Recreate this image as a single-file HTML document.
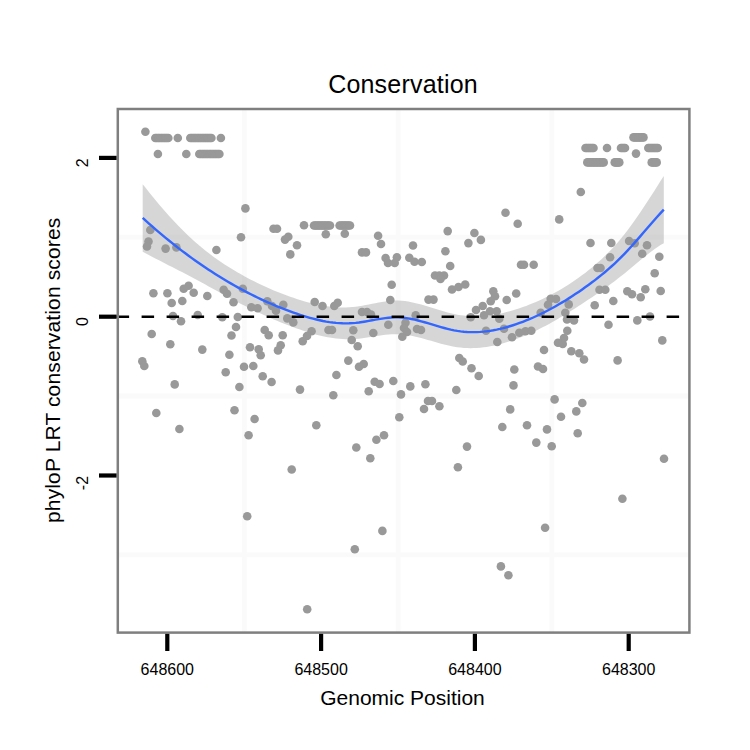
<!DOCTYPE html>
<html><head><meta charset="utf-8"><style>
html,body{margin:0;padding:0;background:#fff;}
body{width:750px;height:750px;overflow:hidden;}
svg{display:block;}
text{font-family:"Liberation Sans",sans-serif;fill:#000;}
</style></head><body>
<svg width="750" height="750" viewBox="0 0 750 750">
<rect x="0" y="0" width="750" height="750" fill="#fff"/>
<g stroke="#fafafa" stroke-width="4.8">
<line x1="244.3" y1="109.0" x2="244.3" y2="632.6"/>
<line x1="398.1" y1="109.0" x2="398.1" y2="632.6"/>
<line x1="551.9" y1="109.0" x2="551.9" y2="632.6"/>
<line x1="117.8" y1="237.1" x2="689.4" y2="237.1"/>
<line x1="117.8" y1="396.0" x2="689.4" y2="396.0"/>
<line x1="117.8" y1="554.8" x2="689.4" y2="554.8"/>
</g>
<g fill="#999999">
<circle cx="145.4" cy="131.7" r="4.3"/>
<circle cx="155.3" cy="138.0" r="4.3"/>
<circle cx="156.7" cy="138.0" r="4.3"/>
<circle cx="158.2" cy="138.0" r="4.3"/>
<circle cx="159.6" cy="138.0" r="4.3"/>
<circle cx="161.1" cy="138.0" r="4.3"/>
<circle cx="162.5" cy="138.0" r="4.3"/>
<circle cx="164.0" cy="138.0" r="4.3"/>
<circle cx="165.4" cy="138.0" r="4.3"/>
<circle cx="166.9" cy="138.0" r="4.3"/>
<circle cx="168.3" cy="138.0" r="4.3"/>
<circle cx="177.8" cy="138.0" r="4.3"/>
<circle cx="190.3" cy="138.0" r="4.3"/>
<circle cx="191.7" cy="138.0" r="4.3"/>
<circle cx="193.1" cy="138.0" r="4.3"/>
<circle cx="194.5" cy="138.0" r="4.3"/>
<circle cx="195.9" cy="138.0" r="4.3"/>
<circle cx="197.3" cy="138.0" r="4.3"/>
<circle cx="198.7" cy="138.0" r="4.3"/>
<circle cx="200.1" cy="138.0" r="4.3"/>
<circle cx="201.6" cy="138.0" r="4.3"/>
<circle cx="203.0" cy="138.0" r="4.3"/>
<circle cx="204.4" cy="138.0" r="4.3"/>
<circle cx="205.8" cy="138.0" r="4.3"/>
<circle cx="207.2" cy="138.0" r="4.3"/>
<circle cx="208.6" cy="138.0" r="4.3"/>
<circle cx="210.0" cy="138.0" r="4.3"/>
<circle cx="211.4" cy="138.0" r="4.3"/>
<circle cx="220.9" cy="138.0" r="4.3"/>
<circle cx="157.9" cy="154.0" r="4.3"/>
<circle cx="186.3" cy="154.0" r="4.3"/>
<circle cx="199.3" cy="154.0" r="4.3"/>
<circle cx="200.7" cy="154.0" r="4.3"/>
<circle cx="202.2" cy="154.0" r="4.3"/>
<circle cx="203.6" cy="154.0" r="4.3"/>
<circle cx="205.0" cy="154.0" r="4.3"/>
<circle cx="206.5" cy="154.0" r="4.3"/>
<circle cx="207.9" cy="154.0" r="4.3"/>
<circle cx="209.4" cy="154.0" r="4.3"/>
<circle cx="210.8" cy="154.0" r="4.3"/>
<circle cx="212.2" cy="154.0" r="4.3"/>
<circle cx="213.7" cy="154.0" r="4.3"/>
<circle cx="215.1" cy="154.0" r="4.3"/>
<circle cx="216.5" cy="154.0" r="4.3"/>
<circle cx="218.0" cy="154.0" r="4.3"/>
<circle cx="219.4" cy="154.0" r="4.3"/>
<circle cx="633.5" cy="137.4" r="4.3"/>
<circle cx="634.9" cy="137.4" r="4.3"/>
<circle cx="636.4" cy="137.4" r="4.3"/>
<circle cx="637.8" cy="137.4" r="4.3"/>
<circle cx="639.2" cy="137.4" r="4.3"/>
<circle cx="640.6" cy="137.4" r="4.3"/>
<circle cx="642.1" cy="137.4" r="4.3"/>
<circle cx="643.5" cy="137.4" r="4.3"/>
<circle cx="585.5" cy="148.0" r="4.3"/>
<circle cx="586.8" cy="148.0" r="4.3"/>
<circle cx="588.2" cy="148.0" r="4.3"/>
<circle cx="589.5" cy="148.0" r="4.3"/>
<circle cx="590.8" cy="148.0" r="4.3"/>
<circle cx="592.2" cy="148.0" r="4.3"/>
<circle cx="593.5" cy="148.0" r="4.3"/>
<circle cx="607.0" cy="148.0" r="4.3"/>
<circle cx="621.0" cy="148.0" r="4.3"/>
<circle cx="622.3" cy="148.0" r="4.3"/>
<circle cx="623.7" cy="148.0" r="4.3"/>
<circle cx="625.0" cy="148.0" r="4.3"/>
<circle cx="648.3" cy="148.0" r="4.3"/>
<circle cx="649.6" cy="148.0" r="4.3"/>
<circle cx="651.0" cy="148.0" r="4.3"/>
<circle cx="652.3" cy="148.0" r="4.3"/>
<circle cx="653.7" cy="148.0" r="4.3"/>
<circle cx="655.0" cy="148.0" r="4.3"/>
<circle cx="656.4" cy="148.0" r="4.3"/>
<circle cx="657.7" cy="148.0" r="4.3"/>
<circle cx="636.0" cy="153.6" r="4.3"/>
<circle cx="587.3" cy="162.4" r="4.3"/>
<circle cx="588.8" cy="162.4" r="4.3"/>
<circle cx="590.3" cy="162.4" r="4.3"/>
<circle cx="591.8" cy="162.4" r="4.3"/>
<circle cx="593.3" cy="162.4" r="4.3"/>
<circle cx="594.8" cy="162.4" r="4.3"/>
<circle cx="596.2" cy="162.4" r="4.3"/>
<circle cx="597.7" cy="162.4" r="4.3"/>
<circle cx="599.2" cy="162.4" r="4.3"/>
<circle cx="600.7" cy="162.4" r="4.3"/>
<circle cx="602.2" cy="162.4" r="4.3"/>
<circle cx="603.7" cy="162.4" r="4.3"/>
<circle cx="614.7" cy="162.4" r="4.3"/>
<circle cx="615.9" cy="162.4" r="4.3"/>
<circle cx="617.0" cy="162.4" r="4.3"/>
<circle cx="618.1" cy="162.4" r="4.3"/>
<circle cx="619.3" cy="162.4" r="4.3"/>
<circle cx="651.7" cy="162.4" r="4.3"/>
<circle cx="653.0" cy="162.4" r="4.3"/>
<circle cx="654.2" cy="162.4" r="4.3"/>
<circle cx="655.5" cy="162.4" r="4.3"/>
<circle cx="656.7" cy="162.4" r="4.3"/>
<circle cx="150.3" cy="230.0" r="4.3"/>
<circle cx="148.5" cy="241.5" r="4.3"/>
<circle cx="147.0" cy="246.5" r="4.3"/>
<circle cx="165.6" cy="248.6" r="4.3"/>
<circle cx="176.4" cy="247.4" r="4.3"/>
<circle cx="216.4" cy="250.0" r="4.3"/>
<circle cx="245.4" cy="208.4" r="4.3"/>
<circle cx="241.0" cy="237.3" r="4.3"/>
<circle cx="273.5" cy="228.7" r="4.3"/>
<circle cx="277.0" cy="228.7" r="4.3"/>
<circle cx="288.3" cy="236.7" r="4.3"/>
<circle cx="285.0" cy="239.6" r="4.3"/>
<circle cx="297.0" cy="245.3" r="4.3"/>
<circle cx="290.3" cy="254.4" r="4.3"/>
<circle cx="304.0" cy="225.3" r="4.3"/>
<circle cx="325.8" cy="234.2" r="4.3"/>
<circle cx="314.0" cy="225.5" r="4.3"/>
<circle cx="315.5" cy="225.5" r="4.3"/>
<circle cx="316.9" cy="225.5" r="4.3"/>
<circle cx="318.4" cy="225.5" r="4.3"/>
<circle cx="319.8" cy="225.5" r="4.3"/>
<circle cx="321.3" cy="225.5" r="4.3"/>
<circle cx="322.7" cy="225.5" r="4.3"/>
<circle cx="324.2" cy="225.5" r="4.3"/>
<circle cx="325.6" cy="225.5" r="4.3"/>
<circle cx="327.1" cy="225.5" r="4.3"/>
<circle cx="328.5" cy="225.5" r="4.3"/>
<circle cx="330.0" cy="225.5" r="4.3"/>
<circle cx="339.6" cy="225.5" r="4.3"/>
<circle cx="341.1" cy="225.5" r="4.3"/>
<circle cx="342.6" cy="225.5" r="4.3"/>
<circle cx="344.1" cy="225.5" r="4.3"/>
<circle cx="345.5" cy="225.5" r="4.3"/>
<circle cx="347.0" cy="225.5" r="4.3"/>
<circle cx="348.5" cy="225.5" r="4.3"/>
<circle cx="350.0" cy="225.5" r="4.3"/>
<circle cx="344.8" cy="233.8" r="4.3"/>
<circle cx="378.1" cy="235.7" r="4.3"/>
<circle cx="381.0" cy="244.0" r="4.3"/>
<circle cx="362.0" cy="252.4" r="4.3"/>
<circle cx="366.0" cy="252.4" r="4.3"/>
<circle cx="413.0" cy="245.5" r="4.3"/>
<circle cx="385.6" cy="258.0" r="4.3"/>
<circle cx="396.9" cy="257.3" r="4.3"/>
<circle cx="388.0" cy="263.0" r="4.3"/>
<circle cx="394.7" cy="263.0" r="4.3"/>
<circle cx="409.3" cy="257.7" r="4.3"/>
<circle cx="414.5" cy="261.7" r="4.3"/>
<circle cx="421.8" cy="262.0" r="4.3"/>
<circle cx="505.5" cy="212.7" r="4.3"/>
<circle cx="517.7" cy="223.7" r="4.3"/>
<circle cx="447.7" cy="231.1" r="4.3"/>
<circle cx="474.4" cy="233.0" r="4.3"/>
<circle cx="480.9" cy="239.9" r="4.3"/>
<circle cx="468.4" cy="243.1" r="4.3"/>
<circle cx="445.4" cy="251.3" r="4.3"/>
<circle cx="450.2" cy="266.0" r="4.3"/>
<circle cx="521.0" cy="264.8" r="4.3"/>
<circle cx="524.0" cy="264.8" r="4.3"/>
<circle cx="533.7" cy="264.8" r="4.3"/>
<circle cx="435.0" cy="275.5" r="4.3"/>
<circle cx="439.3" cy="275.5" r="4.3"/>
<circle cx="444.0" cy="275.5" r="4.3"/>
<circle cx="440.5" cy="279.0" r="4.3"/>
<circle cx="452.0" cy="289.5" r="4.3"/>
<circle cx="458.5" cy="287.0" r="4.3"/>
<circle cx="465.2" cy="284.5" r="4.3"/>
<circle cx="493.3" cy="291.3" r="4.3"/>
<circle cx="495.0" cy="296.3" r="4.3"/>
<circle cx="490.7" cy="301.3" r="4.3"/>
<circle cx="516.2" cy="293.5" r="4.3"/>
<circle cx="506.7" cy="300.0" r="4.3"/>
<circle cx="428.5" cy="299.6" r="4.3"/>
<circle cx="433.5" cy="299.6" r="4.3"/>
<circle cx="580.8" cy="192.0" r="4.3"/>
<circle cx="559.2" cy="219.4" r="4.3"/>
<circle cx="590.5" cy="243.0" r="4.3"/>
<circle cx="611.3" cy="243.0" r="4.3"/>
<circle cx="629.1" cy="241.0" r="4.3"/>
<circle cx="634.7" cy="243.3" r="4.3"/>
<circle cx="647.0" cy="245.3" r="4.3"/>
<circle cx="642.2" cy="253.8" r="4.3"/>
<circle cx="610.1" cy="257.3" r="4.3"/>
<circle cx="597.5" cy="268.0" r="4.3"/>
<circle cx="600.5" cy="268.0" r="4.3"/>
<circle cx="659.3" cy="256.7" r="4.3"/>
<circle cx="654.7" cy="273.3" r="4.3"/>
<circle cx="599.5" cy="289.7" r="4.3"/>
<circle cx="605.3" cy="289.7" r="4.3"/>
<circle cx="627.3" cy="291.3" r="4.3"/>
<circle cx="632.0" cy="294.3" r="4.3"/>
<circle cx="645.3" cy="289.3" r="4.3"/>
<circle cx="640.7" cy="297.3" r="4.3"/>
<circle cx="660.7" cy="291.0" r="4.3"/>
<circle cx="613.3" cy="301.0" r="4.3"/>
<circle cx="594.7" cy="305.3" r="4.3"/>
<circle cx="650.0" cy="316.5" r="4.3"/>
<circle cx="637.3" cy="320.4" r="4.3"/>
<circle cx="608.5" cy="324.7" r="4.3"/>
<circle cx="153.4" cy="293.3" r="4.3"/>
<circle cx="167.4" cy="293.3" r="4.3"/>
<circle cx="171.7" cy="303.0" r="4.3"/>
<circle cx="182.3" cy="301.0" r="4.3"/>
<circle cx="183.7" cy="288.7" r="4.3"/>
<circle cx="188.6" cy="285.7" r="4.3"/>
<circle cx="193.7" cy="292.7" r="4.3"/>
<circle cx="207.3" cy="296.0" r="4.3"/>
<circle cx="223.7" cy="289.7" r="4.3"/>
<circle cx="227.0" cy="293.7" r="4.3"/>
<circle cx="233.5" cy="302.2" r="4.3"/>
<circle cx="173.0" cy="316.0" r="4.3"/>
<circle cx="181.0" cy="321.3" r="4.3"/>
<circle cx="197.7" cy="315.0" r="4.3"/>
<circle cx="222.3" cy="317.3" r="4.3"/>
<circle cx="151.7" cy="334.0" r="4.3"/>
<circle cx="170.3" cy="344.3" r="4.3"/>
<circle cx="202.3" cy="349.6" r="4.3"/>
<circle cx="231.5" cy="335.5" r="4.3"/>
<circle cx="236.0" cy="327.0" r="4.3"/>
<circle cx="229.4" cy="354.7" r="4.3"/>
<circle cx="142.3" cy="361.3" r="4.3"/>
<circle cx="144.3" cy="366.0" r="4.3"/>
<circle cx="242.8" cy="288.8" r="4.3"/>
<circle cx="251.3" cy="307.3" r="4.3"/>
<circle cx="257.6" cy="308.3" r="4.3"/>
<circle cx="267.3" cy="301.3" r="4.3"/>
<circle cx="272.0" cy="306.0" r="4.3"/>
<circle cx="276.0" cy="310.7" r="4.3"/>
<circle cx="283.3" cy="304.7" r="4.3"/>
<circle cx="314.7" cy="302.0" r="4.3"/>
<circle cx="322.5" cy="306.0" r="4.3"/>
<circle cx="237.8" cy="317.0" r="4.3"/>
<circle cx="287.3" cy="318.4" r="4.3"/>
<circle cx="293.3" cy="322.4" r="4.3"/>
<circle cx="264.7" cy="330.0" r="4.3"/>
<circle cx="268.7" cy="335.3" r="4.3"/>
<circle cx="282.7" cy="335.3" r="4.3"/>
<circle cx="311.6" cy="331.3" r="4.3"/>
<circle cx="307.0" cy="336.0" r="4.3"/>
<circle cx="302.7" cy="341.3" r="4.3"/>
<circle cx="250.0" cy="347.3" r="4.3"/>
<circle cx="258.7" cy="349.3" r="4.3"/>
<circle cx="260.7" cy="355.3" r="4.3"/>
<circle cx="280.7" cy="345.3" r="4.3"/>
<circle cx="278.0" cy="350.4" r="4.3"/>
<circle cx="244.0" cy="366.7" r="4.3"/>
<circle cx="253.3" cy="366.0" r="4.3"/>
<circle cx="262.7" cy="376.3" r="4.3"/>
<circle cx="271.6" cy="382.0" r="4.3"/>
<circle cx="391.7" cy="284.7" r="4.3"/>
<circle cx="390.3" cy="300.0" r="4.3"/>
<circle cx="337.7" cy="302.7" r="4.3"/>
<circle cx="334.3" cy="306.0" r="4.3"/>
<circle cx="362.0" cy="312.0" r="4.3"/>
<circle cx="367.0" cy="312.0" r="4.3"/>
<circle cx="371.0" cy="314.5" r="4.3"/>
<circle cx="415.7" cy="315.3" r="4.3"/>
<circle cx="328.5" cy="330.0" r="4.3"/>
<circle cx="332.0" cy="330.0" r="4.3"/>
<circle cx="353.3" cy="330.3" r="4.3"/>
<circle cx="373.3" cy="333.0" r="4.3"/>
<circle cx="388.3" cy="324.7" r="4.3"/>
<circle cx="405.5" cy="322.7" r="4.3"/>
<circle cx="404.0" cy="328.0" r="4.3"/>
<circle cx="407.0" cy="332.0" r="4.3"/>
<circle cx="417.0" cy="329.0" r="4.3"/>
<circle cx="421.0" cy="330.0" r="4.3"/>
<circle cx="402.3" cy="336.7" r="4.3"/>
<circle cx="351.7" cy="340.0" r="4.3"/>
<circle cx="357.7" cy="346.3" r="4.3"/>
<circle cx="348.3" cy="360.6" r="4.3"/>
<circle cx="363.7" cy="364.0" r="4.3"/>
<circle cx="359.0" cy="366.7" r="4.3"/>
<circle cx="482.7" cy="306.0" r="4.3"/>
<circle cx="476.0" cy="310.0" r="4.3"/>
<circle cx="484.0" cy="315.3" r="4.3"/>
<circle cx="470.7" cy="317.3" r="4.3"/>
<circle cx="490.0" cy="311.3" r="4.3"/>
<circle cx="496.7" cy="311.3" r="4.3"/>
<circle cx="499.3" cy="318.7" r="4.3"/>
<circle cx="486.0" cy="330.7" r="4.3"/>
<circle cx="504.0" cy="328.7" r="4.3"/>
<circle cx="512.0" cy="337.3" r="4.3"/>
<circle cx="497.3" cy="342.0" r="4.3"/>
<circle cx="459.3" cy="358.0" r="4.3"/>
<circle cx="462.7" cy="361.5" r="4.3"/>
<circle cx="471.5" cy="368.2" r="4.3"/>
<circle cx="550.7" cy="298.7" r="4.3"/>
<circle cx="556.0" cy="299.0" r="4.3"/>
<circle cx="548.0" cy="304.7" r="4.3"/>
<circle cx="568.7" cy="304.4" r="4.3"/>
<circle cx="540.7" cy="312.7" r="4.3"/>
<circle cx="565.3" cy="312.7" r="4.3"/>
<circle cx="567.0" cy="319.5" r="4.3"/>
<circle cx="574.0" cy="320.5" r="4.3"/>
<circle cx="519.3" cy="332.7" r="4.3"/>
<circle cx="525.5" cy="331.3" r="4.3"/>
<circle cx="531.3" cy="330.7" r="4.3"/>
<circle cx="567.3" cy="330.7" r="4.3"/>
<circle cx="564.0" cy="338.0" r="4.3"/>
<circle cx="558.0" cy="342.7" r="4.3"/>
<circle cx="562.7" cy="344.0" r="4.3"/>
<circle cx="544.0" cy="350.0" r="4.3"/>
<circle cx="571.3" cy="351.3" r="4.3"/>
<circle cx="579.3" cy="353.3" r="4.3"/>
<circle cx="584.0" cy="359.5" r="4.3"/>
<circle cx="514.3" cy="369.5" r="4.3"/>
<circle cx="662.3" cy="340.4" r="4.3"/>
<circle cx="617.6" cy="360.4" r="4.3"/>
<circle cx="225.7" cy="372.3" r="4.3"/>
<circle cx="174.7" cy="384.4" r="4.3"/>
<circle cx="156.3" cy="413.0" r="4.3"/>
<circle cx="179.4" cy="429.0" r="4.3"/>
<circle cx="234.5" cy="410.2" r="4.3"/>
<circle cx="239.4" cy="387.0" r="4.3"/>
<circle cx="300.0" cy="389.6" r="4.3"/>
<circle cx="254.6" cy="419.0" r="4.3"/>
<circle cx="248.6" cy="435.3" r="4.3"/>
<circle cx="316.3" cy="425.3" r="4.3"/>
<circle cx="291.7" cy="469.5" r="4.3"/>
<circle cx="336.4" cy="375.0" r="4.3"/>
<circle cx="374.7" cy="381.7" r="4.3"/>
<circle cx="379.6" cy="384.0" r="4.3"/>
<circle cx="393.3" cy="381.0" r="4.3"/>
<circle cx="410.3" cy="386.4" r="4.3"/>
<circle cx="368.7" cy="391.3" r="4.3"/>
<circle cx="401.0" cy="394.4" r="4.3"/>
<circle cx="333.3" cy="395.3" r="4.3"/>
<circle cx="399.3" cy="417.3" r="4.3"/>
<circle cx="384.0" cy="435.3" r="4.3"/>
<circle cx="376.4" cy="439.7" r="4.3"/>
<circle cx="356.3" cy="447.5" r="4.3"/>
<circle cx="370.3" cy="458.3" r="4.3"/>
<circle cx="478.7" cy="376.0" r="4.3"/>
<circle cx="513.5" cy="385.4" r="4.3"/>
<circle cx="425.4" cy="384.3" r="4.3"/>
<circle cx="456.3" cy="390.0" r="4.3"/>
<circle cx="428.0" cy="401.0" r="4.3"/>
<circle cx="432.0" cy="401.0" r="4.3"/>
<circle cx="424.0" cy="409.0" r="4.3"/>
<circle cx="439.4" cy="406.3" r="4.3"/>
<circle cx="510.2" cy="409.4" r="4.3"/>
<circle cx="502.3" cy="427.0" r="4.3"/>
<circle cx="467.0" cy="446.6" r="4.3"/>
<circle cx="538.0" cy="366.5" r="4.3"/>
<circle cx="543.0" cy="369.0" r="4.3"/>
<circle cx="554.6" cy="399.4" r="4.3"/>
<circle cx="582.3" cy="403.0" r="4.3"/>
<circle cx="576.3" cy="411.4" r="4.3"/>
<circle cx="561.0" cy="416.7" r="4.3"/>
<circle cx="527.0" cy="425.3" r="4.3"/>
<circle cx="547.0" cy="429.4" r="4.3"/>
<circle cx="577.7" cy="433.3" r="4.3"/>
<circle cx="536.3" cy="442.6" r="4.3"/>
<circle cx="551.7" cy="446.3" r="4.3"/>
<circle cx="664.0" cy="458.7" r="4.3"/>
<circle cx="622.4" cy="498.8" r="4.3"/>
<circle cx="247.2" cy="516.2" r="4.3"/>
<circle cx="382.4" cy="530.9" r="4.3"/>
<circle cx="354.8" cy="549.3" r="4.3"/>
<circle cx="307.2" cy="609.3" r="4.3"/>
<circle cx="457.9" cy="467.2" r="4.3"/>
<circle cx="545.1" cy="527.7" r="4.3"/>
<circle cx="500.9" cy="566.4" r="4.3"/>
<circle cx="508.4" cy="575.3" r="4.3"/>
</g>
<path d="M142.70,184.15 L145.98,188.33 L149.25,192.45 L152.53,196.50 L155.81,200.48 L159.09,204.40 L162.36,208.23 L165.64,212.00 L168.92,215.68 L172.20,219.28 L175.47,222.80 L178.75,226.23 L182.03,229.57 L185.31,232.82 L188.58,235.97 L191.86,239.02 L195.14,241.97 L198.42,244.82 L201.69,247.57 L204.97,250.23 L208.25,252.79 L211.52,255.27 L214.80,257.67 L218.08,259.99 L221.36,262.24 L224.63,264.41 L227.91,266.52 L231.19,268.56 L234.47,270.54 L237.74,272.47 L241.02,274.34 L244.30,276.16 L247.58,277.94 L250.85,279.66 L254.13,281.33 L257.41,282.96 L260.68,284.54 L263.96,286.07 L267.24,287.56 L270.52,289.00 L273.79,290.39 L277.07,291.74 L280.35,293.05 L283.63,294.31 L286.90,295.53 L290.18,296.70 L293.46,297.84 L296.74,298.93 L300.01,299.97 L303.29,300.96 L306.57,301.90 L309.85,302.79 L313.12,303.60 L316.40,304.36 L319.68,305.04 L322.95,305.65 L326.23,306.18 L329.51,306.62 L332.79,306.98 L336.06,307.25 L339.34,307.42 L342.62,307.50 L345.90,307.47 L349.17,307.34 L352.45,307.09 L355.73,306.73 L359.01,306.27 L362.28,305.72 L365.56,305.11 L368.84,304.46 L372.12,303.80 L375.39,303.14 L378.67,302.52 L381.95,301.94 L385.22,301.44 L388.50,301.03 L391.78,300.74 L395.06,300.59 L398.33,300.60 L401.61,300.78 L404.89,301.12 L408.17,301.60 L411.44,302.20 L414.72,302.91 L418.00,303.71 L421.28,304.59 L424.55,305.52 L427.83,306.50 L431.11,307.51 L434.38,308.53 L437.66,309.55 L440.94,310.54 L444.22,311.50 L447.49,312.41 L450.77,313.25 L454.05,314.00 L457.33,314.66 L460.60,315.20 L463.88,315.62 L467.16,315.94 L470.44,316.15 L473.71,316.25 L476.99,316.26 L480.27,316.16 L483.55,315.96 L486.82,315.68 L490.10,315.30 L493.38,314.83 L496.65,314.27 L499.93,313.64 L503.21,312.92 L506.49,312.12 L509.76,311.25 L513.04,310.31 L516.32,309.30 L519.60,308.22 L522.87,307.08 L526.15,305.88 L529.43,304.61 L532.71,303.28 L535.98,301.89 L539.26,300.44 L542.54,298.92 L545.82,297.35 L549.09,295.71 L552.37,294.00 L555.65,292.22 L558.92,290.38 L562.20,288.46 L565.48,286.47 L568.76,284.41 L572.03,282.27 L575.31,280.05 L578.59,277.75 L581.87,275.36 L585.14,272.90 L588.42,270.35 L591.70,267.71 L594.98,264.97 L598.25,262.12 L601.53,259.15 L604.81,256.05 L608.08,252.82 L611.36,249.43 L614.64,245.88 L617.92,242.16 L621.19,238.27 L624.47,234.19 L627.75,229.95 L631.03,225.56 L634.30,221.01 L637.58,216.33 L640.86,211.52 L644.14,206.60 L647.41,201.60 L650.69,196.53 L653.97,191.41 L657.25,186.27 L660.52,181.12 L663.80,175.99 L663.80,243.18 L660.52,245.11 L657.25,247.22 L653.97,249.50 L650.69,251.92 L647.41,254.46 L644.14,257.08 L640.86,259.77 L637.58,262.49 L634.30,265.23 L631.03,267.97 L627.75,270.69 L624.47,273.38 L621.19,276.03 L617.92,278.62 L614.64,281.15 L611.36,283.61 L608.08,286.02 L604.81,288.38 L601.53,290.69 L598.25,292.96 L594.98,295.21 L591.70,297.42 L588.42,299.61 L585.14,301.79 L581.87,303.94 L578.59,306.08 L575.31,308.19 L572.03,310.27 L568.76,312.33 L565.48,314.35 L562.20,316.34 L558.92,318.29 L555.65,320.20 L552.37,322.06 L549.09,323.88 L545.82,325.65 L542.54,327.37 L539.26,329.03 L535.98,330.63 L532.71,332.18 L529.43,333.66 L526.15,335.09 L522.87,336.46 L519.60,337.76 L516.32,339.01 L513.04,340.18 L509.76,341.29 L506.49,342.33 L503.21,343.30 L499.93,344.18 L496.65,344.99 L493.38,345.71 L490.10,346.34 L486.82,346.88 L483.55,347.33 L480.27,347.69 L476.99,347.94 L473.71,348.09 L470.44,348.13 L467.16,348.07 L463.88,347.89 L460.60,347.60 L457.33,347.19 L454.05,346.66 L450.77,346.02 L447.49,345.30 L444.22,344.50 L440.94,343.64 L437.66,342.73 L434.38,341.80 L431.11,340.86 L427.83,339.92 L424.55,338.99 L421.28,338.11 L418.00,337.27 L414.72,336.50 L411.44,335.81 L408.17,335.22 L404.89,334.74 L401.61,334.38 L398.33,334.18 L395.06,334.13 L391.78,334.23 L388.50,334.45 L385.22,334.78 L381.95,335.20 L378.67,335.68 L375.39,336.20 L372.12,336.74 L368.84,337.28 L365.56,337.79 L362.28,338.26 L359.01,338.66 L355.73,338.98 L352.45,339.18 L349.17,339.27 L345.90,339.25 L342.62,339.11 L339.34,338.87 L336.06,338.53 L332.79,338.09 L329.51,337.57 L326.23,336.96 L322.95,336.27 L319.68,335.51 L316.40,334.67 L313.12,333.77 L309.85,332.80 L306.57,331.79 L303.29,330.72 L300.01,329.60 L296.74,328.44 L293.46,327.24 L290.18,326.02 L286.90,324.76 L283.63,323.46 L280.35,322.14 L277.07,320.79 L273.79,319.40 L270.52,317.99 L267.24,316.55 L263.96,315.07 L260.68,313.57 L257.41,312.03 L254.13,310.47 L250.85,308.88 L247.58,307.26 L244.30,305.61 L241.02,303.93 L237.74,302.23 L234.47,300.50 L231.19,298.74 L227.91,296.97 L224.63,295.19 L221.36,293.39 L218.08,291.58 L214.80,289.77 L211.52,287.96 L208.25,286.15 L204.97,284.35 L201.69,282.55 L198.42,280.77 L195.14,279.00 L191.86,277.25 L188.58,275.52 L185.31,273.81 L182.03,272.11 L178.75,270.42 L175.47,268.74 L172.20,267.06 L168.92,265.39 L165.64,263.71 L162.36,262.03 L159.09,260.34 L155.81,258.64 L152.53,256.92 L149.25,255.19 L145.98,253.43 L142.70,251.65 Z" fill="#999999" fill-opacity="0.4"/>
<path d="M142.70,217.90 L145.98,220.88 L149.25,223.82 L152.53,226.71 L155.81,229.56 L159.09,232.37 L162.36,235.13 L165.64,237.85 L168.92,240.54 L172.20,243.17 L175.47,245.77 L178.75,248.33 L182.03,250.84 L185.31,253.31 L188.58,255.74 L191.86,258.13 L195.14,260.48 L198.42,262.79 L201.69,265.06 L204.97,267.29 L208.25,269.47 L211.52,271.62 L214.80,273.72 L218.08,275.79 L221.36,277.81 L224.63,279.80 L227.91,281.75 L231.19,283.65 L234.47,285.52 L237.74,287.35 L241.02,289.14 L244.30,290.89 L247.58,292.60 L250.85,294.27 L254.13,295.90 L257.41,297.50 L260.68,299.05 L263.96,300.57 L267.24,302.05 L270.52,303.49 L273.79,304.90 L277.07,306.27 L280.35,307.60 L283.63,308.89 L286.90,310.14 L290.18,311.36 L293.46,312.54 L296.74,313.68 L300.01,314.78 L303.29,315.84 L306.57,316.85 L309.85,317.80 L313.12,318.69 L316.40,319.51 L319.68,320.27 L322.95,320.96 L326.23,321.57 L329.51,322.10 L332.79,322.54 L336.06,322.89 L339.34,323.15 L342.62,323.30 L345.90,323.36 L349.17,323.30 L352.45,323.14 L355.73,322.86 L359.01,322.47 L362.28,321.99 L365.56,321.45 L368.84,320.87 L372.12,320.27 L375.39,319.67 L378.67,319.10 L381.95,318.57 L385.22,318.11 L388.50,317.74 L391.78,317.48 L395.06,317.36 L398.33,317.39 L401.61,317.58 L404.89,317.93 L408.17,318.41 L411.44,319.00 L414.72,319.70 L418.00,320.49 L421.28,321.35 L424.55,322.26 L427.83,323.21 L431.11,324.18 L434.38,325.17 L437.66,326.14 L440.94,327.09 L444.22,328.00 L447.49,328.85 L450.77,329.64 L454.05,330.33 L457.33,330.92 L460.60,331.40 L463.88,331.76 L467.16,332.01 L470.44,332.14 L473.71,332.17 L476.99,332.10 L480.27,331.92 L483.55,331.65 L486.82,331.28 L490.10,330.82 L493.38,330.27 L496.65,329.63 L499.93,328.91 L503.21,328.11 L506.49,327.23 L509.76,326.27 L513.04,325.25 L516.32,324.15 L519.60,322.99 L522.87,321.77 L526.15,320.48 L529.43,319.14 L532.71,317.73 L535.98,316.26 L539.26,314.73 L542.54,313.15 L545.82,311.50 L549.09,309.79 L552.37,308.03 L555.65,306.21 L558.92,304.33 L562.20,302.40 L565.48,300.41 L568.76,298.37 L572.03,296.27 L575.31,294.12 L578.59,291.91 L581.87,289.65 L585.14,287.34 L588.42,284.98 L591.70,282.56 L594.98,280.09 L598.25,277.54 L601.53,274.92 L604.81,272.21 L608.08,269.42 L611.36,266.52 L614.64,263.51 L617.92,260.39 L621.19,257.15 L624.47,253.79 L627.75,250.32 L631.03,246.76 L634.30,243.12 L637.58,239.41 L640.86,235.64 L644.14,231.84 L647.41,228.03 L650.69,224.22 L653.97,220.46 L657.25,216.74 L660.52,213.11 L663.80,209.58" fill="none" stroke="#3366ff" stroke-width="2.4" stroke-linejoin="round"/>
<line x1="116.6" y1="316.7" x2="689.4" y2="316.7" stroke="#000" stroke-width="2.4" stroke-dasharray="12.5 12.5"/>
<rect x="117.8" y="109.0" width="571.6" height="523.6" fill="none" stroke="#7f7f7f" stroke-width="2.5"/>
<g stroke="#000" stroke-width="4.2">
<line x1="99" y1="157.9" x2="116.55" y2="157.9"/>
<line x1="99" y1="316.7" x2="116.55" y2="316.7"/>
<line x1="99" y1="475.5" x2="116.55" y2="475.5"/>
<line x1="167.3" y1="633.85" x2="167.3" y2="651"/>
<line x1="321.1" y1="633.85" x2="321.1" y2="651"/>
<line x1="474.9" y1="633.85" x2="474.9" y2="651"/>
<line x1="628.7" y1="633.85" x2="628.7" y2="651"/>
</g>
<g font-size="16" text-anchor="middle">
<text x="167.3" y="675.2">648600</text>
<text x="321.1" y="675.2">648500</text>
<text x="474.9" y="675.2">648400</text>
<text x="628.7" y="675.2">648300</text>
</g>
<g font-size="16" text-anchor="end">
<text transform="translate(87.5,158.3) rotate(-90)">2</text>
<text transform="translate(87.5,317.1) rotate(-90)">0</text>
<text transform="translate(87.5,475.9) rotate(-90)">-2</text>
</g>
<text x="403" y="92.7" font-size="25" letter-spacing="0.2" text-anchor="middle">Conservation</text>
<text x="402.5" y="704.9" font-size="21" text-anchor="middle">Genomic Position</text>
<text transform="translate(60.2,370.3) rotate(-90)" font-size="21" letter-spacing="0.14" text-anchor="middle">phyloP LRT conservation scores</text>
</svg>
</body></html>
